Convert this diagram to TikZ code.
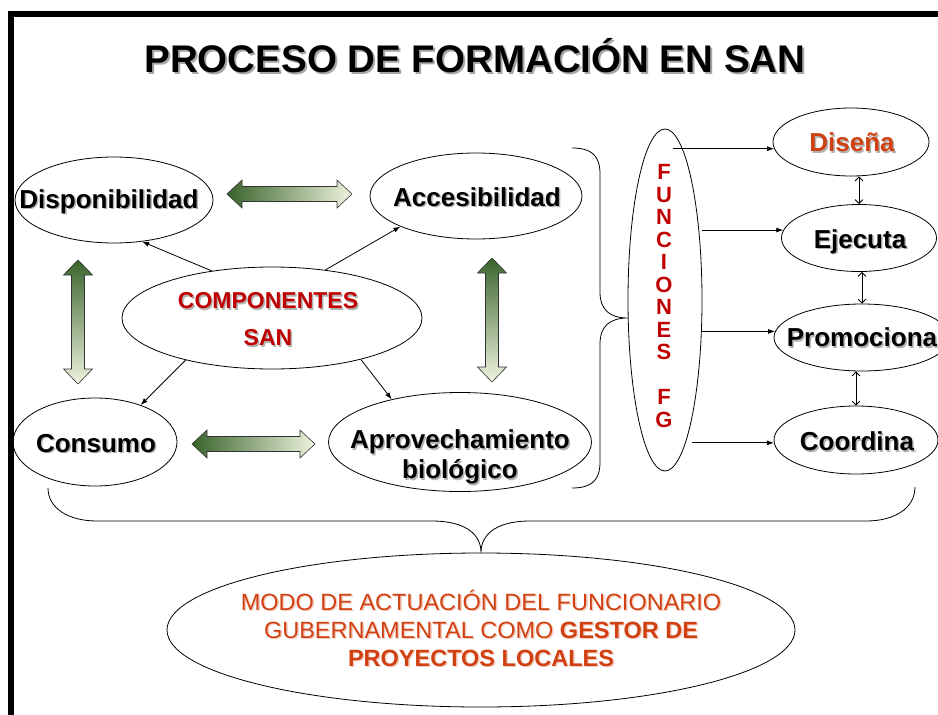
\documentclass[tikz,border=0pt]{standalone}
\usepackage{fontspec}
\setmainfont{Liberation Sans}
\usetikzlibrary{arrows.meta,calc,shapes.geometric}
\definecolor{dred}{RGB}{192,0,0}
\definecolor{ored}{RGB}{208,64,16}
\definecolor{dkg}{RGB}{58,100,44}
\definecolor{ltg}{RGB}{238,243,222}
\newcommand\shtxt[2][black!30]{\leavevmode\rlap{\kern1.5pt\raisebox{-1.5pt}{\color{#1}#2}}#2}
\newcommand\shtitle[1]{\leavevmode\rlap{\kern2pt\raisebox{-2pt}{\color{black!35}#1}}#1}
\newcommand\blkh[3]{%
 \shade[blk,left color=dkg,right color=ltg] (#1,#3) -- (#1+15,#3-14) -- (#1+15,#3-7.5) -- (#2-15,#3-7.5) -- (#2-15,#3-14) -- (#2,#3) -- (#2-15,#3+14) -- (#2-15,#3+7.5) -- (#1+15,#3+7.5) -- (#1+15,#3+14) -- cycle;}
\newcommand\blkv[3]{%
 \shade[blk,top color=dkg,bottom color=ltg] (#3,#1) -- (#3+14.5,#1+15) -- (#3+6.5,#1+15) -- (#3+6.5,#2-15) -- (#3+14.5,#2-15) -- (#3,#2) -- (#3-14.5,#2-15) -- (#3-6.5,#2-15) -- (#3-6.5,#1+15) -- (#3-14.5,#1+15) -- cycle;}
\begin{document}
\begin{tikzpicture}[x=1pt,y=-1pt,
  oval/.style={draw, ellipse, line width=0.8pt, inner sep=0pt},
  lbl/.style={font=\bfseries\fontsize{26}{30}\selectfont, inner sep=0pt, anchor=base},
  arr/.style={-{Latex[length=7pt,width=5pt]}, line width=0.8pt},
  dbl/.style={{Straight Barb[length=4pt,width=8pt]}-{Straight Barb[length=4pt,width=8pt]}, line width=0.8pt},
  blk/.style={draw=black!80, line width=0.6pt},
  brace/.style={line width=0.8pt}
]
\useasboundingbox (0,0) rectangle (938,715);
\fill[white] (0,0) rectangle (938,715);
\draw[line width=6pt, miter limit=10] (11,725) -- (11,14) -- (948,14);

% title
\node[font=\bfseries\fontsize{38.5}{46}\selectfont, anchor=base, inner sep=0pt] (title) at (475,72) {\shtitle{PROCESO DE FORMACIÓN EN SAN}};

% ellipses
\node[oval, minimum width=198pt, minimum height=86pt] (disp) at (114,200) {};
\node[oval, minimum width=212pt, minimum height=86pt] (acc) at (476,196) {};
\node[oval, minimum width=300pt, minimum height=102pt] (comp) at (272,318) {};
\node[oval, minimum width=164pt, minimum height=88pt] (cons) at (95,442) {};
\node[oval, minimum width=263pt, minimum height=99pt] (aprov) at (460,442) {};
\node[oval, minimum width=74pt, minimum height=342pt] (fg) at (665,300) {};
\node[oval, minimum width=156pt, minimum height=68pt] (dis) at (851,142) {};
\node[oval, minimum width=155pt, minimum height=67pt] (eje) at (859,238) {};
\node[oval, minimum width=176pt, minimum height=67pt] (prom) at (862,337.5) {};
\node[oval, minimum width=164pt, minimum height=68pt] (coor) at (856,440) {};
\node[oval, minimum width=628pt, minimum height=154pt] (bot) at (481,630) {};

% texts
\node[lbl] (tdisp) at (109,208) {\shtxt{Disponibilidad}};
\node[lbl] (tacc) at (477,206) {\shtxt{Accesibilidad}};
\node[lbl] (tcons) at (96,452) {\shtxt{Consumo}};
\node[lbl, text=ored] (tdis) at (852,151.7) {\shtxt{Diseña}};
\node[lbl] (teje) at (860,248.3) {\shtxt{Ejecuta}};
\node[lbl] (tprom) at (862,346.7) {\shtxt{Promociona}};
\node[lbl] (tcoor) at (857,450.7) {\shtxt{Coordina}};
\node[font=\bfseries\fontsize{23}{36.7}\selectfont, text=dred, align=center, inner sep=0pt] (tcomp) at (268,320) {\shtxt{COMPONENTES}\\\shtxt{SAN}};
\node[font=\bfseries\fontsize{26}{30}\selectfont, align=center, inner sep=0pt] (taprov) at (460,458) {\shtxt{Aprovechamiento}\\\shtxt{biológico}};
\node[font=\bfseries\fontsize{22}{22.5}\selectfont, text=dred, align=center, inner sep=0pt] (tfg) at (664,296) {F\\U\\N\\C\\I\\O\\N\\E\\S\\[22.5pt]F\\G};
\node[font=\fontsize{23.5}{28}\selectfont, text=ored, align=center, inner sep=0pt] (tbot) at (481,629) {\shtxt[ored!25]{MODO DE ACTUACIÓN DEL FUNCIONARIO}\\\shtxt[ored!25]{GUBERNAMENTAL COMO \textbf{GESTOR DE}}\\\shtxt[ored!25]{\textbf{PROYECTOS LOCALES}}};

% thin arrows from components
\draw[arr] (comp.142.7) -- (disp.-56);
\draw[arr] (comp.42) -- (acc.-158.6);
\draw[arr] (comp.-154) -- (cons.39.4);
\draw[arr] (comp.-25) -- (aprov.148);

% arrows from functions
\draw[arr] ($(fg.center |- dis.185)+(8,0)$) -- (dis.185);
\draw[arr] (fg.east |- eje.174) -- (eje.174);
\draw[arr] (fg.east |- prom.176) -- (prom.176);
\draw[arr] ($(fg.center |- coor.182)+(27,0)$) -- (coor.182);

% double arrows between functions
\draw[dbl] (dis.south -| eje.north) -- (eje.north);
\draw[dbl] (eje.south -| prom.north) -- (prom.north);
\draw[dbl] (prom.south -| coor.north) -- (coor.north);

% green block arrows
\blkh{227}{352}{194}
\blkh{192}{315}{444}
\blkv{260}{384}{78}
\blkv{258}{382}{492}

% braces
\draw[brace] (572,148) .. controls (592,148) and (600,156) .. (600,174) -- (600,292) .. controls (600,310) and (610,318) .. (628,318) .. controls (610,318) and (600,326) .. (600,344) -- (600,462) .. controls (600,480) and (592,488) .. (572,488);
\draw[brace] (48,488) .. controls (48,508) and (68,521) .. (97,521) -- (432,521) .. controls (462,521) and (481,532) .. (bot.north) .. controls (481,532) and (500,521) .. (530,521) -- (866,521) .. controls (895,521) and (915,508) .. (915,487);
\end{tikzpicture}
\end{document}
